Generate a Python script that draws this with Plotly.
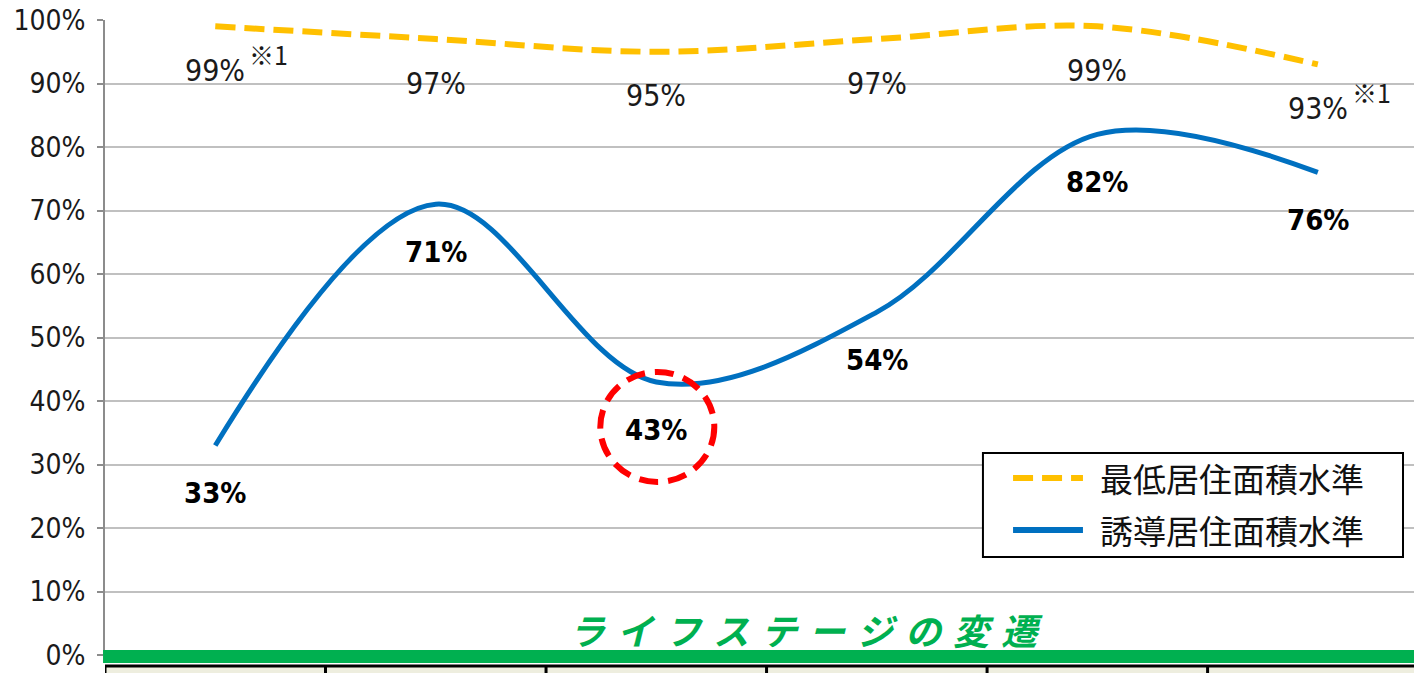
import plotly.graph_objects as go

# ライフステージ別の居住面積水準達成率
stages = ["s1", "s2", "s3", "s4", "s5", "s6"]
series_names = ["最低居住面積水準", "誘導居住面積水準"]
minimum_level = [99, 97, 95, 97, 99, 93]
induced_level = [33, 71, 43, 54, 82, 76]
minimum_notes = ["※1", "", "", "", "", "※1"]
highlight_stage = "s3"
band_title = "ライフステージの変遷"

y_ticks = list(range(0, 101, 10))
y_tick_labels = [f"{v}%" for v in y_ticks]

YELLOW = "#FFC000"
BLUE = "#0070C0"
GREEN = "#00B050"
NUM_FONT = "DejaVu Sans Condensed, Liberation Sans Narrow, sans-serif"
JP_FONT = "Noto Sans CJK JP, sans-serif"
YELLOW_DASH = "20px,9px"

fig = go.Figure()
fig.add_trace(go.Scatter(
    x=stages, y=minimum_level, name=series_names[0], mode="lines",
    line=dict(color=YELLOW, width=6, dash=YELLOW_DASH, shape="spline", smoothing=1),
))
fig.add_trace(go.Scatter(
    x=stages, y=induced_level, name=series_names[1], mode="lines",
    line=dict(color=BLUE, width=5, shape="spline", smoothing=1),
))

# data labels
for s, v, note in zip(stages, minimum_level, minimum_notes):
    fig.add_annotation(x=s, y=v, text=f"{v}%", showarrow=False, yshift=-44,
                       font=dict(family=NUM_FONT, size=30, color="#1a1a1a"))
    if note:
        fig.add_annotation(x=s, y=v, text=note, showarrow=False, xanchor="left",
                           yshift=-28, xshift=32,
                           font=dict(family=JP_FONT, size=25, color="#1a1a1a"))
for s, v in zip(stages, induced_level):
    fig.add_annotation(x=s, y=v, text=f"<b>{v}%</b>", showarrow=False, yshift=-48,
                       font=dict(family=NUM_FONT, size=29, color="#000000"))

# red dashed circle around the lowest point label
hi = stages.index(highlight_stage)
fig.add_shape(type="circle", xref="x", yref="y",
              xsizemode="pixel", ysizemode="pixel",
              xanchor=highlight_stage, yanchor=induced_level[hi],
              x0=-56, x1=58, y0=-100, y1=10,
              line=dict(color="#FF0000", width=6, dash="19px,10px"))

# green band and the top of the table under the axis
fig.add_shape(type="rect", xref="paper", yref="paper", x0=-0.0015, x1=1,
              y0=-0.0126, y1=0.0079, fillcolor=GREEN, line_width=0, layer="above")
fig.add_shape(type="rect", xref="paper", yref="paper", x0=0, x1=1,
              y0=-0.04, y1=-0.019, fillcolor="#EEEEDF", line_width=0)
fig.add_shape(type="line", xref="paper", yref="paper", x0=0, x1=1,
              y0=-0.0173, y1=-0.0173, line=dict(color="black", width=3))
for i in range(len(stages)):
    fig.add_shape(type="line", xref="x", yref="paper", x0=i - 0.5, x1=i - 0.5,
                  y0=-0.0173, y1=-0.04, line=dict(color="black", width=3))

spaced = "\u2004".join(band_title)
fig.add_annotation(xref="paper", yref="paper", x=0.5355, y=0.041, yanchor="middle",
                   text=f"<b><i>{spaced}</i></b>", showarrow=False,
                   font=dict(family=JP_FONT, size=36, color=GREEN))

# legend box (drawn by hand to get the long line samples)
fig.add_shape(type="rect", xref="paper", yref="paper", x0=0.6707, x1=0.9916,
              y0=0.1543, y1=0.318, fillcolor="white",
              line=dict(color="black", width=2), layer="above")
legend_rows = [(series_names[0], YELLOW, YELLOW_DASH, 0.2787),
               (series_names[1], BLUE, "solid", 0.1969)]
for name, color, dash, ry in legend_rows:
    fig.add_shape(type="line", xref="paper", yref="paper", x0=0.6937, x1=0.7471,
                  y0=ry, y1=ry, line=dict(color=color, width=6, dash=dash), layer="above")
    fig.add_annotation(xref="paper", yref="paper", x=0.7586, y=ry, xanchor="left",
                       yanchor="middle", text=name, showarrow=False,
                       font=dict(family=JP_FONT, size=33, color="#111111"))

fig.update_layout(
    width=1414, height=673,
    margin=dict(l=105, r=0, t=20, b=18, autoexpand=False),
    paper_bgcolor="white", plot_bgcolor="white",
    showlegend=False,
    xaxis=dict(range=[-0.5, 5.436], showticklabels=False, showgrid=False,
               zeroline=False, showline=False, fixedrange=True, automargin=False),
    yaxis=dict(range=[0, 100], tickvals=y_ticks, ticktext=y_tick_labels,
               showgrid=True, gridcolor="#C0C0C0", gridwidth=2,
               showline=True, linecolor="#8C8C8C", linewidth=2,
               ticks="outside", ticklen=6, tickwidth=2, tickcolor="#8C8C8C",
               ticklabelstandoff=6, ticklabeloverflow="allow", zeroline=False,
               automargin=False, fixedrange=True,
               tickfont=dict(family=NUM_FONT, size=28, color="#1a1a1a")),
)

# drop the default body margin so the figure sits at the window corner
fig.write_html("out.html", config={"displayModeBar": False},
               post_script="document.body.style.margin = '0';")
